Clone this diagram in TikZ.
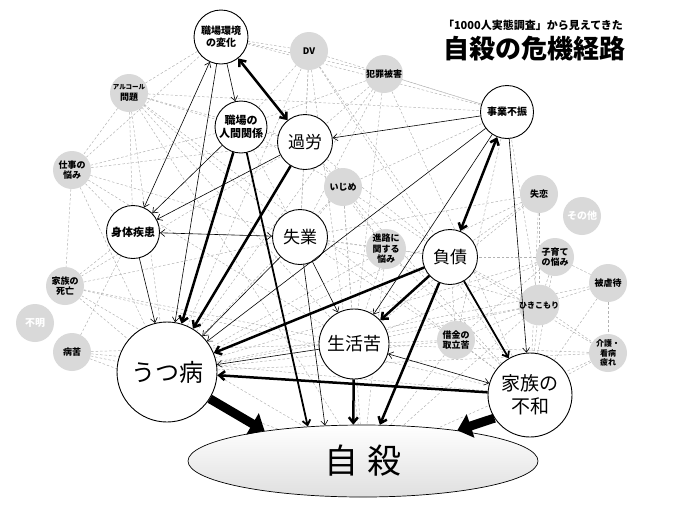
\documentclass[tikz,border=0pt]{standalone}
\usepackage{fontspec}
\setmainfont{Noto Sans CJK JP}
\usetikzlibrary{arrows.meta,shapes.geometric}
\pgfdeclarelayer{bg}
\pgfsetlayers{bg,main}
\begin{document}
\begin{tikzpicture}[x=1pt,y=-1pt,
  wnode/.style={circle,draw,line width=0.9pt,fill=white,inner sep=0pt,align=center},
  gnode/.style={circle,fill=gray!30,inner sep=0pt,minimum size=38pt,align=center,font=\fontsize{9}{10.5}\selectfont\bfseries},
  pale/.style={text=white,font=\fontsize{10}{11}\selectfont\bfseries},
  web/.style={draw=gray!60,dash pattern=on 2.5pt off 2pt,line width=0.5pt},
  thinarr/.style={line width=0.6pt,-{Straight Barb[length=4.5pt,width=7pt]}},
  thindbl/.style={line width=0.6pt,{Straight Barb[length=4.5pt,width=7pt]}-{Straight Barb[length=4.5pt,width=7pt]}},
  medarr/.style={line width=1.8pt,-{Straight Barb[length=5pt,width=8pt]}},
  thickarr/.style={line width=2.5pt,-{Straight Barb[length=5.5pt,width=9pt]}},
  thickdbl/.style={line width=2.5pt,{Straight Barb[length=5.5pt,width=9pt]}-{Straight Barb[length=5.5pt,width=9pt]}},
  hugearr/.style={line width=9pt,-{Triangle[length=14pt,width=24pt]}},
  title/.style={inner sep=0pt,font=\bfseries}
]
\useasboundingbox (0,0) rectangle (693,504);

% title
\node[title,font=\fontsize{11}{12}\selectfont\bfseries] (sub) at (533,25) {「1000人実態調査」から見えてきた};
\node[title,font=\fontsize{26}{28}\selectfont\bfseries] (ttl) at (534,49) {自殺の危機経路};

% white nodes
\node[wnode,minimum size=54pt,font=\fontsize{10}{12}\selectfont\bfseries] (swk) at (221,37) {職場環境\\の変化};
\node[wnode,minimum size=52pt,font=\fontsize{11}{13}\selectfont\bfseries] (ningen) at (241,127) {職場の\\人間関係};
\node[wnode,minimum size=55pt,font=\fontsize{17}{20}\selectfont] (karo) at (305,142) {過労};
\node[wnode,minimum size=53pt,font=\fontsize{10}{12}\selectfont\bfseries] (jigyo) at (507,112) {事業不振};
\node[wnode,minimum size=53pt,font=\fontsize{11}{13}\selectfont\bfseries] (shintai) at (133,232) {身体疾患};
\node[wnode,minimum size=55pt,font=\fontsize{17}{20}\selectfont] (shitsugyo) at (300,237) {失業};
\node[wnode,minimum size=55pt,font=\fontsize{17}{20}\selectfont] (fusai) at (450,257) {負債};
\node[wnode,minimum size=70pt,font=\fontsize{18}{20}\selectfont] (seikatsu) at (354,344) {生活苦};
\node[wnode,minimum size=100pt,font=\fontsize{24}{26}\selectfont] (utsu) at (167,372) {うつ病};
\node[wnode,minimum size=84pt,font=\fontsize{19}{23}\selectfont] (kazoku) at (530,395) {家族の\\不和};
\node[ellipse,draw,line width=0.7pt,minimum width=350pt,minimum height=72pt,inner sep=0pt,
      top color=white,bottom color=gray!25,font=\fontsize{34}{36}\selectfont] (jisatsu) at (363,461) {自\hspace{9pt}殺};

% gray nodes
\node[gnode] (dv) at (309,51) {DV};
\node[gnode] (alc) at (129,93) {{\fontsize{6.5}{8}\selectfont アルコール}\\問題};
\node[gnode] (hanzai) at (384,74) {犯罪被害};
\node[gnode] (shigoto) at (72,170) {仕事の\\悩み};
\node[gnode] (ijime) at (343,187) {いじめ};
\node[gnode] (shitsuren) at (539,194) {失恋};
\node[gnode,pale] (sonota) at (582,216) {その他};
\node[gnode] (shinro) at (386,249) {進路に\\関する\\悩み};
\node[gnode] (kosodate) at (555,257) {子育て\\の悩み};
\node[gnode] (hiza) at (608,283) {被虐待};
\node[gnode,font=\fontsize{8}{9}\selectfont\bfseries] (hiki) at (539,305) {ひきこもり};
\node[gnode] (shibo) at (65,286) {家族の\\死亡};
\node[gnode,pale] (fumei) at (35,323) {不明};
\node[gnode] (byoku) at (72,352) {病苦};
\node[gnode] (shakkin) at (456,340) {借金の\\取立苦};
\node[gnode,font=\fontsize{8}{9.5}\selectfont\bfseries] (kaigo) at (608,353) {介護・\\看病\\疲れ};

% dashed web
\begin{pgfonlayer}{bg}
\foreach \a/\b in {alc/swk, alc/shigoto, alc/ningen, alc/karo, alc/shintai, alc/utsu, alc/shitsugyo, alc/seikatsu, alc/kazoku, alc/jigyo, alc/jisatsu,
  dv/swk, dv/karo, dv/ningen, dv/utsu, dv/kazoku, dv/shitsugyo, dv/jigyo, dv/fusai, dv/jisatsu,
  hanzai/karo, hanzai/utsu, hanzai/ningen, hanzai/shitsugyo, hanzai/kazoku, hanzai/jigyo, hanzai/seikatsu, hanzai/swk,
  shigoto/swk, shigoto/ningen, shigoto/karo, shigoto/shintai, shigoto/utsu, shigoto/shitsugyo, shigoto/seikatsu, shigoto/shibo,
  ijime/ningen, ijime/karo, ijime/shitsugyo, ijime/utsu, ijime/fusai, ijime/kazoku, ijime/seikatsu, ijime/jigyo, ijime/shinro, ijime/jisatsu,
  shitsuren/fusai, shitsuren/utsu, shitsuren/kazoku, shitsuren/seikatsu, shitsuren/shitsugyo, shitsuren/hiki,
  shinro/shitsugyo, shinro/fusai, shinro/utsu, shinro/seikatsu, shinro/kazoku, shinro/karo, shinro/jisatsu,
  kosodate/fusai, kosodate/kazoku, kosodate/utsu, kosodate/hiza, kosodate/hiki, kosodate/seikatsu, kosodate/shakkin,
  hiza/hiki, hiza/kazoku, hiza/kaigo, hiza/utsu,
  hiki/utsu, hiki/kazoku, hiki/fusai, hiki/seikatsu, hiki/kaigo, hiki/jigyo, hiki/shitsugyo, hiki/shakkin, hiki/jisatsu,
  shibo/shintai, shibo/utsu, shibo/seikatsu, shibo/kazoku, shibo/shitsugyo, shibo/karo, shibo/jisatsu,
  byoku/utsu, byoku/shintai, byoku/seikatsu, byoku/kazoku, byoku/jisatsu,
  shakkin/fusai, shakkin/seikatsu, shakkin/kazoku, shakkin/utsu, shakkin/jigyo, shakkin/shitsugyo, shakkin/jisatsu,
  kaigo/kazoku, kaigo/utsu, kaigo/seikatsu, kaigo/fusai, kaigo/jisatsu,
  karo/shitsugyo, ningen/karo, shitsugyo/fusai, karo/fusai, swk/jigyo, ningen/shitsugyo}
  \draw[web] (\a) -- (\b);
\end{pgfonlayer}

% solid connectors
\draw[thindbl] (swk) -- (shintai);
\draw[thinarr] (swk) -- (utsu);
\draw[thinarr] (swk) -- (ningen);
\draw[thickdbl] (swk) -- (karo);
\draw[thinarr] (ningen) -- (shintai);
\draw[thinarr] (karo) -- (shintai);
\draw[thickarr] (ningen) -- (utsu);
\draw[medarr] (ningen) -- (jisatsu.148.7);
\draw[thickarr] (karo) -- (utsu);
\draw[thinarr] (jigyo) -- (karo);
\draw[thinarr] (jigyo) -- (utsu);
\draw[thinarr] (jigyo) -- (seikatsu);
\draw[thinarr] (jigyo) -- (kazoku);
\draw[thickdbl] (jigyo) -- (fusai);
\draw[thindbl] (shintai) -- (shitsugyo);
\draw[thinarr] (shintai) -- (utsu);
\draw[thinarr] (shitsugyo) -- (utsu);
\draw[thinarr] (shitsugyo) -- (seikatsu);
\draw[thinarr] (shitsugyo) -- (jisatsu.137);
\draw[thickarr] (fusai) -- (utsu);
\draw[thickarr] (fusai) -- (seikatsu);
\draw[thickarr] (fusai) -- (jisatsu.65);
\draw[medarr] (fusai) -- (kazoku);
\draw[thinarr] (seikatsu) -- (utsu);
\draw[thindbl] (seikatsu) -- (kazoku);
\draw[thickarr] (seikatsu) -- (jisatsu.105);
\draw[thickarr] (kazoku) -- (utsu);
\draw[hugearr] (utsu.-32) -- (jisatsu.163);
\draw[hugearr] (kazoku.213) -- (jisatsu.18.6);
\end{tikzpicture}
\end{document}
